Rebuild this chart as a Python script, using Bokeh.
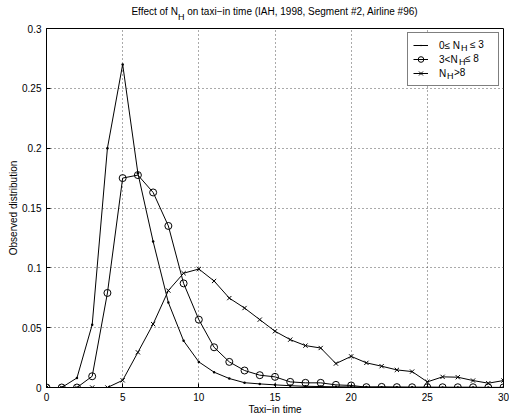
from bokeh.plotting import figure
from bokeh.layouts import column
from bokeh.models import Range1d, FixedTicker, Legend, LegendItem, Div
from bokeh.embed import file_html
from bokeh.resources import INLINE

FONT = "Liberation Sans"

# ---- data -------------------------------------------------------------
taxi_time = list(range(0, 31))
nh_low = [0, 0, 0.008, 0.0525, 0.200, 0.270, 0.179, 0.122, 0.071, 0.039,
          0.0214, 0.0128, 0.0075, 0.004, 0.003, 0.0022, 0.0015, 0.001, 0.0008, 0.0006,
          0.0005, 0.0004, 0.0003, 0.0003, 0.0002, 0.0002, 0.0001, 0.0001, 0.0001, 0.0, 0.0]
nh_mid = [0, 0, 0, 0.0094, 0.079, 0.175, 0.1775, 0.163, 0.135, 0.087,
          0.0567, 0.0336, 0.0214, 0.0142, 0.0103, 0.0089, 0.0047, 0.0039, 0.0039, 0.0022,
          0.0017, 0.0003, 0.0005, 0.0003, 0.0002, 0.0002, 0.0002, 0.0002, 0.0002, 0.0001, 0.0001]
nh_high = [0, 0, 0, 0, 0, 0.006, 0.0294, 0.053, 0.081, 0.0955,
           0.099, 0.089, 0.0747, 0.0664, 0.0567, 0.047, 0.040, 0.035, 0.033, 0.020,
           0.026, 0.0206, 0.0178, 0.0147, 0.0133, 0.0047, 0.0089, 0.0086, 0.0058, 0.0036, 0.0058]

x_ticks = [0, 5, 10, 15, 20, 25, 30]
y_ticks = [0, 0.05, 0.1, 0.15, 0.2, 0.25, 0.3]
y_tick_labels = ["0", "0.05", "0.1", "0.15", "0.2", "0.25", "0.3"]

title_html = ("Effect of N<span style='font-size:9px;vertical-align:-5px;line-height:0'>H</span>"
              " on taxi\u2212in time (IAH, 1998, Segment #2, Airline #96)")
# legend texts: part before the subscript, the subscript, part after it
legend_pre = ["0\u2264 N", "3<N", "N"]
legend_sub = ["H", "H", "H"]
legend_post = ["\u2264 3", "\u2264 8", ">8"]
x_label = "Taxi\u2212in time"
y_label = "Observed distribution"

# ---- title ------------------------------------------------------------
title = Div(text=("<div style=\"width:457px;margin-left:46px;text-align:center;"
                  "font-family:'Liberation Sans',Arial,sans-serif;font-size:10px;"
                  "line-height:10px;padding-top:7px;white-space:nowrap;color:black\">"
                  + title_html + "</div>"),
            width=509, height=24, margin=0)

# ---- figure -----------------------------------------------------------
p = figure(width=509, height=393, x_range=Range1d(0, 30), y_range=Range1d(0, 0.3),
           output_backend="svg", toolbar_location=None,
           min_border_left=46, min_border_right=6, min_border_top=4, min_border_bottom=29)
p.background_fill_color = "white"
p.border_fill_color = "white"
p.outline_line_color = "black"
p.outline_line_width = 1

for ax in (p.xaxis[0], p.yaxis[0]):
    ax.major_tick_in = 4
    ax.major_tick_out = 0
    ax.minor_tick_line_color = None
    ax.axis_line_color = "black"
    ax.major_tick_line_color = "black"
    ax.major_label_text_font = FONT
    ax.major_label_text_font_size = "10px"
    ax.major_label_text_color = "black"
    ax.axis_label_text_font = FONT
    ax.axis_label_text_font_size = "10px"
    ax.axis_label_text_font_style = "normal"
    ax.axis_label_text_color = "black"

p.xaxis.ticker = FixedTicker(ticks=x_ticks)
p.xaxis.major_label_standoff = 5
p.xaxis.axis_label = x_label
p.xaxis.axis_label_standoff = 0
p.yaxis.ticker = FixedTicker(ticks=y_ticks)
p.yaxis.major_label_overrides = {t: l for t, l in zip(y_ticks, y_tick_labels)}
p.yaxis.major_label_standoff = 5
p.yaxis.axis_label = y_label
p.yaxis.axis_label_standoff = 0

p.grid.grid_line_color = "#555555"
p.grid.grid_line_dash = "1 3"
p.xgrid.ticker = FixedTicker(ticks=x_ticks)
p.ygrid.ticker = FixedTicker(ticks=y_ticks)

# ---- series -----------------------------------------------------------
l1 = p.line(taxi_time, nh_low, line_color="black", line_width=1)
s1 = p.scatter(taxi_time, nh_low, marker="dot", size=10, fill_color="black", line_color="black")
l2 = p.line(taxi_time, nh_mid, line_color="black", line_width=1)
s2 = p.scatter(taxi_time, nh_mid, marker="circle", size=7, fill_color=None, line_color="black", line_width=1)
l3 = p.line(taxi_time, nh_high, line_color="black", line_width=1)
s3 = p.scatter(taxi_time, nh_high, marker="x", size=6, line_color="black", line_width=1)
blank = p.line(x=[], y=[], line_alpha=0)

# ---- legend box with glyphs and the first part of each label ------------
ROW, MARGIN, PAD, TEXT_X = 14, 4, 5, 63  # TEXT_X: label start, px left of frame's right edge
legend = Legend(items=[LegendItem(label=t, renderers=r) for t, r in
                       zip(legend_pre, [[l1, s1], [l2, s2], [l3, s3]])],
                location="top_right", margin=MARGIN, padding=PAD, spacing=0,
                glyph_width=15, glyph_height=ROW, label_height=ROW, label_width=54,
                label_standoff=11, label_text_font=FONT, label_text_color="black",
                label_text_font_size="10px",
                border_line_color="black", border_line_width=1,
                background_fill_color="white", background_fill_alpha=1)
p.add_layout(legend)

# widths (px) of the pieces before the subscript / before the tail, in 10px Liberation Sans
pre_w = [21.05, 18.62, 7.22]
tail_x = [30.3, 25.1, 13.7]


def helper(text, x_off, center, size):
    # one-row, invisible-glyph legend used only to place a piece of text
    lw = int(round(TEXT_X - x_off - MARGIN))
    h = int(round(2 * (center - MARGIN)))
    p.add_layout(Legend(items=[LegendItem(label=text, renderers=[blank])],
                        location="top_right", margin=MARGIN, padding=0, spacing=0,
                        glyph_width=15, glyph_height=h, label_height=h, label_width=lw,
                        label_standoff=11, label_text_font=FONT, label_text_color="black",
                        label_text_font_size=size, border_line_alpha=0,
                        background_fill_alpha=0))


for i in range(3):
    center = MARGIN + PAD + ROW / 2 + ROW * i
    helper(legend_sub[i], pre_w[i], center + 3.5, "9px")
    helper(legend_post[i], tail_x[i], center, "10px")

open("out.html", "w").write(file_html(column(title, p, spacing=0), INLINE))
